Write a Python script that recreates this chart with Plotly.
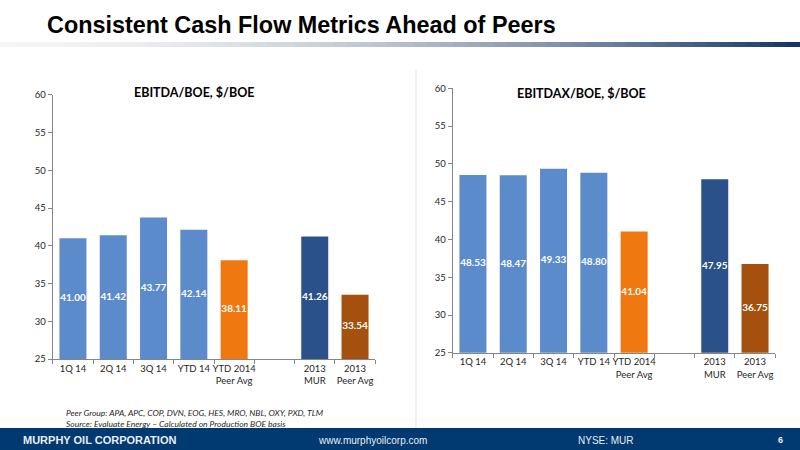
import plotly.graph_objects as go

# categories shared by both panels (blank slot between the two groups)
categories = ["1Q 14", "2Q 14", "3Q 14", "YTD 14", "YTD 2014<br>Peer Avg", " ",
              "2013<br>MUR", "2013<br>Peer Avg"]
ebitda = [41.00, 41.42, 43.77, 42.14, 38.11, None, 41.26, 33.54]
ebitdax = [48.53, 48.47, 49.33, 48.80, 41.04, None, 47.95, 36.75]
y_ticks = [25, 30, 35, 40, 45, 50, 55, 60]
Y_MIN = 25

LIGHT = "#5B8BCB"
ORANGE = "#F07810"
NAVY = "#2A5189"
BROWN = "#A5500F"
bar_colors = [LIGHT, LIGHT, LIGHT, LIGHT, ORANGE, LIGHT, NAVY, BROWN]

FONT = "Lato, Open Sans, sans-serif"

fig = go.Figure()


def add_panel(vals, xa, ya):
    fig.add_trace(go.Bar(
        x=categories, y=vals, marker=dict(color=bar_colors, line=dict(width=0)),
        xaxis=xa, yaxis=ya, showlegend=False,
    ))
    # value labels sit in the middle of the visible part of each bar
    pts = [(c, v) for c, v in zip(categories, vals) if v is not None]
    fig.add_trace(go.Scatter(
        x=[c for c, _ in pts], y=[(Y_MIN + v) / 2 for _, v in pts],
        text=[f"<b>{v:.2f}</b>" for _, v in pts], mode="text",
        textfont=dict(color="white", size=10, family=FONT),
        xaxis=xa, yaxis=ya, showlegend=False, hoverinfo="skip",
    ))


add_panel(ebitda, "x", "y")
add_panel(ebitdax, "x2", "y2")

axis_common = dict(
    showgrid=False, zeroline=False, showline=True, linecolor="#868686",
    linewidth=1, ticks="outside", tickcolor="#868686", ticklen=4,
    tickfont=dict(family=FONT, size=9.5, color="#262626"), automargin=False,
)

fig.update_layout(
    width=800, height=450, margin=dict(l=0, r=0, t=0, b=0),
    paper_bgcolor="white", plot_bgcolor="white", bargap=0.33,
    xaxis=dict(domain=[0.066, 0.469], anchor="y", type="category", tickangle=0,
               tickson="boundaries", **axis_common),
    yaxis=dict(domain=[0.202, 0.789], anchor="x", range=[Y_MIN, 60],
               tickvals=y_ticks, **axis_common),
    xaxis2=dict(domain=[0.566, 0.969], anchor="y2", type="category", tickangle=0,
                tickson="boundaries", **axis_common),
    yaxis2=dict(domain=[0.216, 0.804], anchor="x2", range=[Y_MIN, 60],
                tickvals=y_ticks, **axis_common),
)

# header title and gradient rule
fig.add_annotation(text="<b>Consistent Cash Flow Metrics Ahead of Peers</b>",
                   xref="paper", yref="paper", x=45 / 800, y=1 - 25 / 450,
                   xanchor="left", yanchor="middle", showarrow=False,
                   font=dict(family="Liberation Sans, Arial", size=23.4, color="black"))

n = 60
for i in range(n):
    t = i / (n - 1)
    r = int(245 + (20 - 245) * t ** 1.8)
    g = int(245 + (55 - 245) * t ** 1.8)
    b = int(245 + (105 - 245) * t ** 1.8)
    fig.add_shape(type="rect", xref="paper", yref="paper",
                  x0=i / n, x1=(i + 1) / n + 0.001,
                  y0=1 - 47 / 450, y1=1 - 42 / 450,
                  fillcolor=f"rgb({r},{g},{b})", line=dict(width=0), layer="below")

# vertical separator
fig.add_shape(type="line", xref="paper", yref="paper", x0=416 / 800, x1=416 / 800,
              y0=1 - 428 / 450, y1=1 - 70 / 450, line=dict(color="#E3E3E3", width=1))

# chart titles
fig.add_annotation(text="<b>EBITDA/BOE, $/BOE</b>", xref="paper", yref="paper",
                   x=194 / 800, y=1 - 92 / 450, xanchor="center", yanchor="middle",
                   showarrow=False, font=dict(family=FONT, size=12.5, color="black"))
fig.add_annotation(text="<b>EBITDAX/BOE, $/BOE</b>", xref="paper", yref="paper",
                   x=581 / 800, y=1 - 93 / 450, xanchor="center", yanchor="middle",
                   showarrow=False, font=dict(family=FONT, size=12.5, color="black"))

# notes
fig.add_annotation(text="<i>Peer Group: APA, APC, COP, DVN, EOG, HES, MRO, NBL, OXY, PXD, TLM</i><br>"
                        "<i>Source: Evaluate Energy – Calculated on Production BOE basis</i>",
                   xref="paper", yref="paper", x=64 / 800, y=1 - 418 / 450,
                   xanchor="left", yanchor="middle", align="left", showarrow=False,
                   font=dict(family=FONT, size=8.5, color="#262626"))

# footer bar
fig.add_shape(type="rect", xref="paper", yref="paper", x0=0, x1=1,
              y0=0, y1=1 - 428 / 450, fillcolor="#003A70", line=dict(width=0))
foot_y = 1 - 440 / 450
fig.add_annotation(text="<b>MURPHY OIL CORPORATION</b>",
                   xref="paper", yref="paper", x=21 / 800, y=foot_y,
                   xanchor="left", yanchor="middle", showarrow=False,
                   font=dict(family="Liberation Sans, Arial", size=11, color="#E8EDF3"))
fig.add_annotation(text="www.murphyoilcorp.com", xref="paper", yref="paper",
                   x=372 / 800, y=foot_y, xanchor="center", yanchor="middle", showarrow=False,
                   font=dict(family="Liberation Sans, Arial", size=10, color="#E8EDF3"))
fig.add_annotation(text="NYSE: MUR", xref="paper", yref="paper",
                   x=606 / 800, y=foot_y, xanchor="center", yanchor="middle", showarrow=False,
                   font=dict(family="Liberation Sans, Arial", size=10, color="#E8EDF3"))
fig.add_annotation(text="<b>6</b>", xref="paper", yref="paper",
                   x=780 / 800, y=foot_y, xanchor="center", yanchor="middle", showarrow=False,
                   font=dict(family="Liberation Sans, Arial", size=9, color="#E8EDF3"))

# drop the browser's default page margin so the figure fills the window
fig.write_html("out.html", config={"displayModeBar": False},
               post_script="document.body.style.margin='0';")
